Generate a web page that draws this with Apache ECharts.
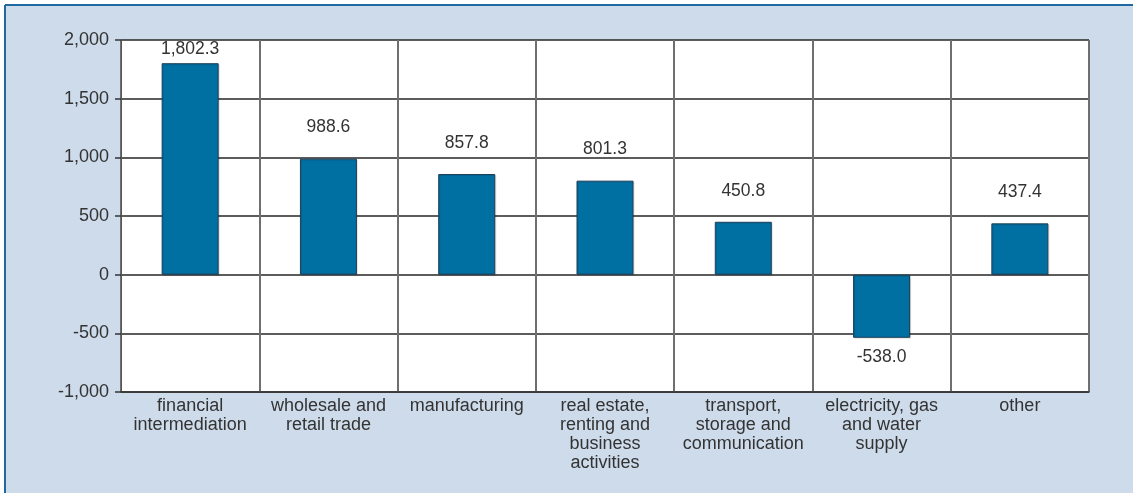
<!DOCTYPE html>
<html>
<head>
<meta charset="utf-8">
<script src="https://cdn.jsdelivr.net/npm/echarts@6/dist/echarts.min.js"></script>
<style>
  html, body { margin: 0; padding: 0; background: #ffffff; }
  #chart { width: 1133px; height: 493px; }
</style>
</head>
<body>
<div id="chart"></div>
<script>
var categories = [
    'financial\nintermediation',
    'wholesale and\nretail trade',
    'manufacturing',
    'real estate,\nrenting and\nbusiness\nactivities',
    'transport,\nstorage and\ncommunication',
    'electricity, gas\nand water\nsupply',
    'other'
];
var values = [1802.3, 988.6, 857.8, 801.3, 450.8, -538.0, 437.4];
var yTicks = { min: -1000, max: 2000, interval: 500 };

var myChart = echarts.init(document.getElementById('chart'));

function fmt(v) {
    var s = Math.abs(v).toFixed(1).split('.');
    s[0] = s[0].replace(/\B(?=(\d{3})+(?!\d))/g, ',');
    return (v < 0 ? '-' : '') + s.join('.');
}

var barData = values.map(function (v, i) {
    var item = { value: v };
    if (v < 0) {
        item.label = { position: 'bottom', distance: 10 };
    } else if (i === 0) {
        item.label = { distance: 5 };   // squeezed under the top edge
    }
    return item;
});

var option = {
    backgroundColor: '#ffffff',
    animation: false,
    textStyle: { fontFamily: '"Liberation Sans", Arial, sans-serif' },
    graphic: [
        { type: 'rect', z: -10, shape: { x: 5, y: 5, width: 1140, height: 500 },
          style: { fill: '#cddbeb' } },
        // frame: top and left edges only
        { type: 'line', z: -9, shape: { x1: 5, y1: 5, x2: 1133, y2: 5 },
          style: { stroke: '#1f6aa3', lineWidth: 2 } },
        { type: 'line', z: -9, shape: { x1: 5, y1: 5, x2: 5, y2: 493 },
          style: { stroke: '#1f6aa3', lineWidth: 2 } }
    ],
    grid: {
        left: 121,
        top: 40,
        right: 44,
        bottom: 101,
        show: true,
        backgroundColor: '#ffffff',
        borderWidth: 0
    },
    xAxis: {
        type: 'category',
        data: categories,
        position: 'bottom',
        axisLine: { onZero: false, lineStyle: { color: '#333333', width: 1.5 } },
        axisTick: { show: false },
        splitLine: { show: true, lineStyle: { color: '#6f6f6f', width: 2 } },
        axisLabel: {
            interval: 0,
            color: '#333333',
            fontSize: 18,
            lineHeight: 19,
            margin: 5,
            verticalAlign: 'top'
        }
    },
    yAxis: {
        type: 'value',
        min: yTicks.min,
        max: yTicks.max,
        interval: yTicks.interval,
        axisLine: { show: true, lineStyle: { color: '#555555', width: 1 } },
        axisTick: { show: true, length: 6, lineStyle: { color: '#333333', width: 1.5 } },
        splitLine: { show: true, lineStyle: { color: '#262626', width: 1.5 } },
        axisLabel: {
            color: '#333333',
            fontSize: 18,
            margin: 12,
            formatter: function (v) { return fmt(v).replace('.0', ''); }
        }
    },
    series: [{
        type: 'bar',
        data: barData,
        barWidth: 57,
        itemStyle: {
            color: '#0070a3',
            borderColor: '#1d3f57',
            borderWidth: 1,
            shadowColor: 'rgba(0,0,0,0.12)',
            shadowOffsetX: 1,
            shadowOffsetY: 1,
            shadowBlur: 1
        },
        label: {
            show: true,
            position: 'top',
            distance: 22,
            color: '#333333',
            fontSize: 17.5,
            formatter: function (p) { return fmt(p.value); }
        }
    }]
};

myChart.setOption(option);
</script>
</body>
</html>
